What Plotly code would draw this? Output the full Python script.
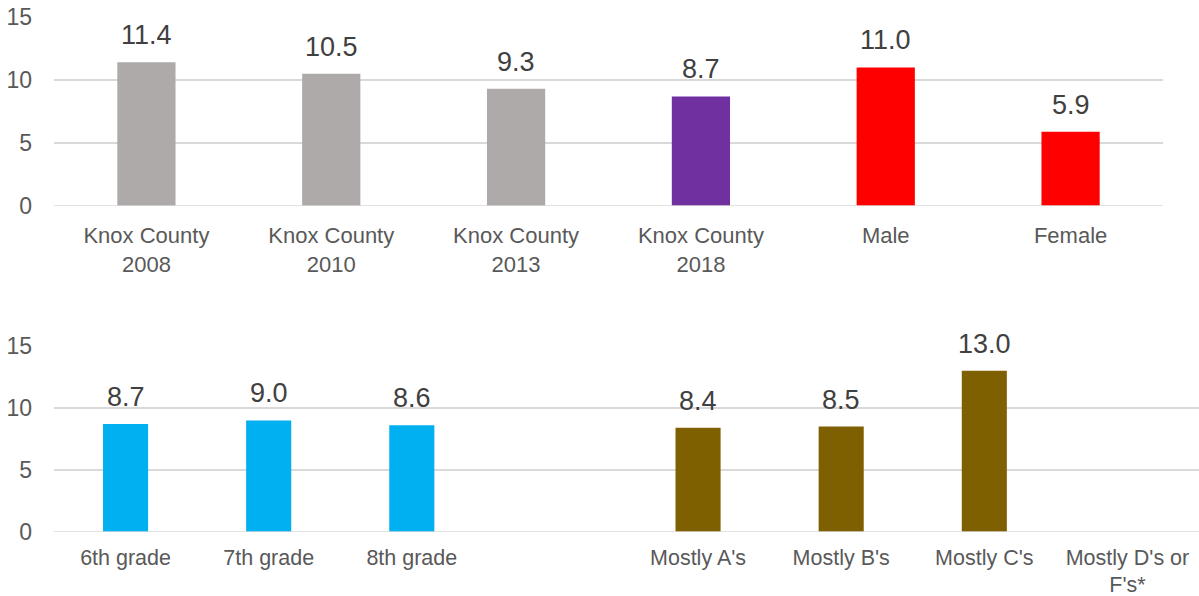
import plotly.graph_objects as go

top_categories = ["Knox County<br>2008", "Knox County<br>2010", "Knox County<br>2013",
                  "Knox County<br>2018", "Male", "Female"]
top_values = [11.4, 10.5, 9.3, 8.7, 11.0, 5.9]
top_colors = ["#AEAAAA", "#AEAAAA", "#AEAAAA", "#7030A0", "#FF0000", "#FF0000"]

bottom_categories = ["6th grade", "7th grade", "8th grade", " ",
                     "Mostly A's", "Mostly B's", "Mostly C's", "Mostly D's or<br>F's*"]
bottom_values = [8.7, 9.0, 8.6, None, 8.4, 8.5, 13.0, None]
bottom_colors = ["#00B0F0", "#00B0F0", "#00B0F0", "#FFFFFF",
                 "#7F6000", "#7F6000", "#7F6000", "#FFFFFF"]

y_ticks = [0, 5, 10, 15]

FONT = "Liberation Sans, Arial, sans-serif"
W, H = 1199, 596

fig = go.Figure()
fig.add_trace(go.Bar(x=top_categories, y=top_values, marker=dict(color=top_colors, line=dict(width=0)),
                     xaxis="x", yaxis="y", showlegend=False, hoverinfo="skip"))
fig.add_trace(go.Bar(x=bottom_categories, y=bottom_values, marker=dict(color=bottom_colors, line=dict(width=0)),
                     xaxis="x2", yaxis="y2", showlegend=False, hoverinfo="skip"))

annotations = []
for c, v in zip(top_categories, top_values):
    annotations.append(dict(x=c, y=v, xref="x", yref="y", text=f"{v:.1f}", showarrow=False,
                            yanchor="bottom", yshift=10, font=dict(size=27, color="#404040", family=FONT)))
for c, v in zip(bottom_categories, bottom_values):
    if v is None:
        continue
    annotations.append(dict(x=c, y=v, xref="x2", yref="y2", text=f"{v:.1f}", showarrow=False,
                            yanchor="bottom", yshift=10, font=dict(size=27, color="#404040", family=FONT)))

yaxis_common = dict(range=[0, 15], tickvals=y_ticks, showgrid=True, gridcolor="#D9D9D9", gridwidth=1.5,
                    zeroline=False, showline=False, ticks="", ticklabelstandoff=21, automargin=False,
                    tickfont=dict(size=23, color="#595959", family=FONT))

fig.update_layout(
    width=W, height=H,
    margin=dict(l=0, r=0, t=0, b=0, autoexpand=False),
    paper_bgcolor="white", plot_bgcolor="white",
    bargap=0.685,
    font=dict(family=FONT),
    xaxis=dict(domain=[54 / W, 1163 / W], anchor="y", ticklabelstandoff=14, showline=False,
               zeroline=False, automargin=False, tickfont=dict(size=22, color="#595959", family=FONT)),
    yaxis=dict(domain=[1 - 206 / H, 1 - 17 / H], anchor="x", **yaxis_common),
    xaxis2=dict(domain=[54 / W, 1.0], anchor="y2", ticklabelstandoff=10, showline=False,
                zeroline=False, automargin=False, tickfont=dict(size=21.5, color="#595959", family=FONT)),
    yaxis2=dict(domain=[1 - 532 / H, 1 - 346 / H], anchor="x2", **yaxis_common),
    annotations=annotations,
    shapes=[
        dict(type="line", xref="x domain", yref="y", x0=0, x1=1, y0=0, y1=0,
             line=dict(color="#D9D9D9", width=1.5)),
        dict(type="line", xref="x2 domain", yref="y2", x0=0, x1=1, y0=0, y1=0,
             line=dict(color="#D9D9D9", width=1.5)),
    ],
)

fig.write_html("out.html", config={"displayModeBar": False},
               post_script="document.body.style.margin='0';document.body.style.overflow='hidden';")
